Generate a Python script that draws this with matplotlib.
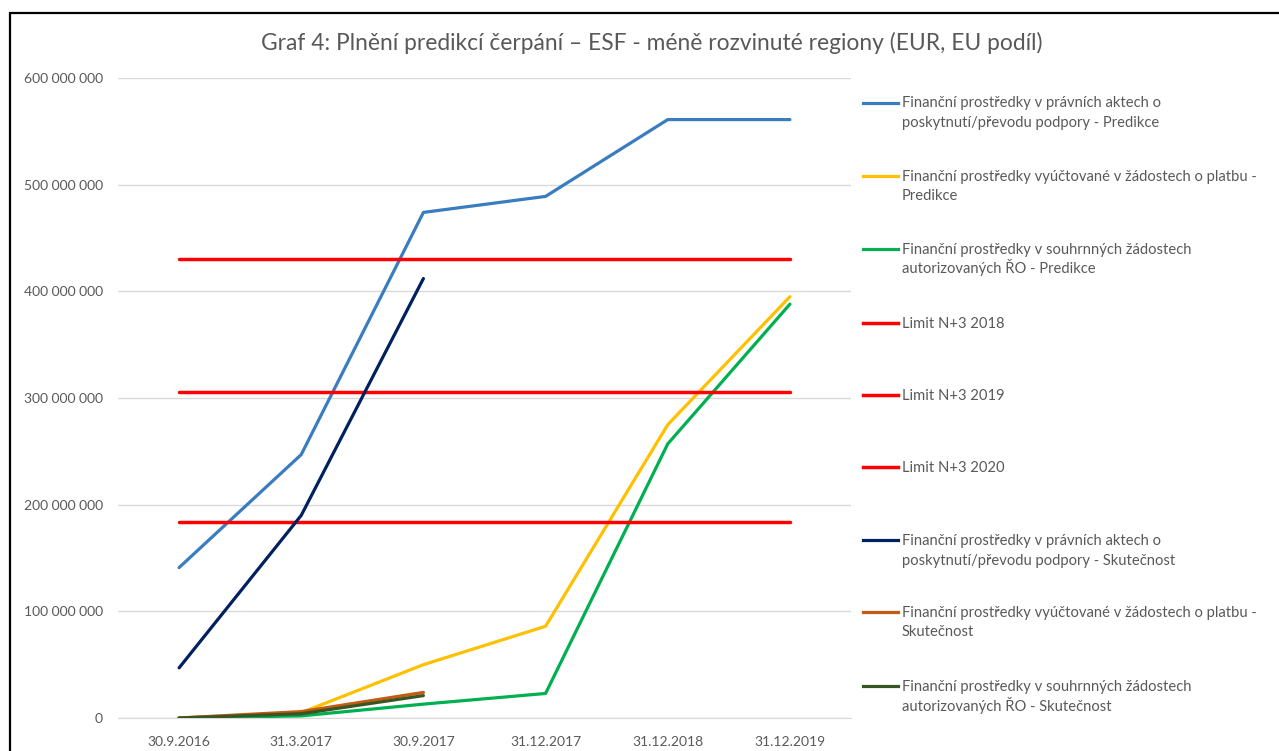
#!/usr/bin/env python3

import matplotlib
matplotlib.use("Agg")
import matplotlib.pyplot as plt
from matplotlib.lines import Line2D
from matplotlib.patches import Rectangle
from matplotlib.ticker import FuncFormatter


DATES = ["30.9.2016", "31.3.2017", "30.9.2017", "31.12.2017", "31.12.2018", "31.12.2019"]

# predikce (6 bodů)
PA_PRED = [141e6, 247e6, 474e6, 489e6, 561e6, 561e6]
ZOP_PRED = [0, 5e6, 50e6, 86e6, 275e6, 395e6]
SZ_PRED = [0, 2e6, 13e6, 23e6, 257e6, 388e6]

# limity N+3
LIMIT_2018 = 430e6
LIMIT_2019 = 306e6
LIMIT_2020 = 184e6

# skutečnost (3 body)
PA_SKUT = [47e6, 190e6, 412e6]
ZOP_SKUT = [0, 6e6, 24e6]
SZ_SKUT = [0, 4e6, 21e6]

TEXT_COLOR = "#595959"
FONT = ["Lato", "DejaVu Sans"]

SERIES = [
    ("Finanční prostředky v právních aktech o\nposkytnutí/převodu podpory - Predikce", PA_PRED, "#3A7CC0", 2.3),
    ("Finanční prostředky vyúčtované v žádostech o platbu -\nPredikce", ZOP_PRED, "#FFC000", 2.3),
    ("Finanční prostředky v souhrnných žádostech\nautorizovaných ŘO - Predikce", SZ_PRED, "#00B050", 2.3),
    ("Limit N+3 2018", [LIMIT_2018] * len(DATES), "#FF0000", 2.5),
    ("Limit N+3 2019", [LIMIT_2019] * len(DATES), "#FF0000", 2.5),
    ("Limit N+3 2020", [LIMIT_2020] * len(DATES), "#FF0000", 2.5),
    ("Finanční prostředky v právních aktech o\nposkytnutí/převodu podpory - Skutečnost", PA_SKUT, "#002060", 2.3),
    ("Finanční prostředky vyúčtované v žádostech o platbu -\nSkutečnost", ZOP_SKUT, "#C55A11", 2.3),
    ("Finanční prostředky v souhrnných žádostech\nautorizovaných ŘO - Skutečnost", SZ_SKUT, "#375623", 2.3),
]


def space_fmt(value, _pos):
    return f"{int(round(value)):,}".replace(",", " ")


def main():
    plt.rcParams["font.family"] = FONT
    W, H = 1279, 751
    fig = plt.figure(figsize=(W / 100, H / 100), dpi=100)
    ax = fig.add_axes([118 / W, 1 - 718 / H, (851 - 118) / W, (718 - 78) / H])

    for label, values, color, lw in SERIES:
        xs = list(range(len(values)))
        ax.plot(xs, values, color=color, linewidth=lw, solid_capstyle="round", zorder=3)

    ax.set_xlim(-0.5, len(DATES) - 0.5)
    ax.set_ylim(0, 600e6)
    ax.set_yticks([i * 100e6 for i in range(7)])
    ax.yaxis.set_major_formatter(FuncFormatter(space_fmt))
    ax.set_xticks(range(len(DATES)))
    ax.set_xticklabels(DATES)
    ax.grid(axis="y", color="#D9D9D9", linewidth=1)
    ax.set_axisbelow(True)
    for side in ["top", "right", "left"]:
        ax.spines[side].set_visible(False)
    ax.spines["bottom"].set_color("#D9D9D9")
    ax.tick_params(axis="both", length=0, colors=TEXT_COLOR, labelsize=10)
    ax.tick_params(axis="y", pad=11)
    ax.tick_params(axis="x", pad=13)

    fig.text(652 / W, 1 - 43 / H, "Graf 4: Plnění predikcí čerpání – ESF - méně rozvinuté regiony (EUR, EU podíl)",
             ha="center", va="center", fontsize=16.4, color=TEXT_COLOR)

    # legenda vpravo, každý řádek zvlášť
    first_line_y = [103, 176, 249, 323, 395, 467, 540, 612, 686]
    for (label, _values, color, lw), yp in zip(SERIES, first_line_y):
        yf = 1 - yp / H
        fig.add_artist(Line2D([863 / W, 898 / W], [yf, yf], color=color, linewidth=lw))
        for i, line in enumerate(label.split("\n")):
            fig.text(902 / W, 1 - (yp + 20 * i + 4.5) / H, line, ha="left", va="baseline",
                     fontsize=10.6, color=TEXT_COLOR)

    # rám grafu
    fig.add_artist(Rectangle((10 / W, -0.1), 1.2, 1 - 13 / H + 0.1, transform=fig.transFigure,
                             fill=False, edgecolor="black", linewidth=1.6))

    fig.savefig("out.png", dpi=100)
    plt.close(fig)


if __name__ == "__main__":
    main()
